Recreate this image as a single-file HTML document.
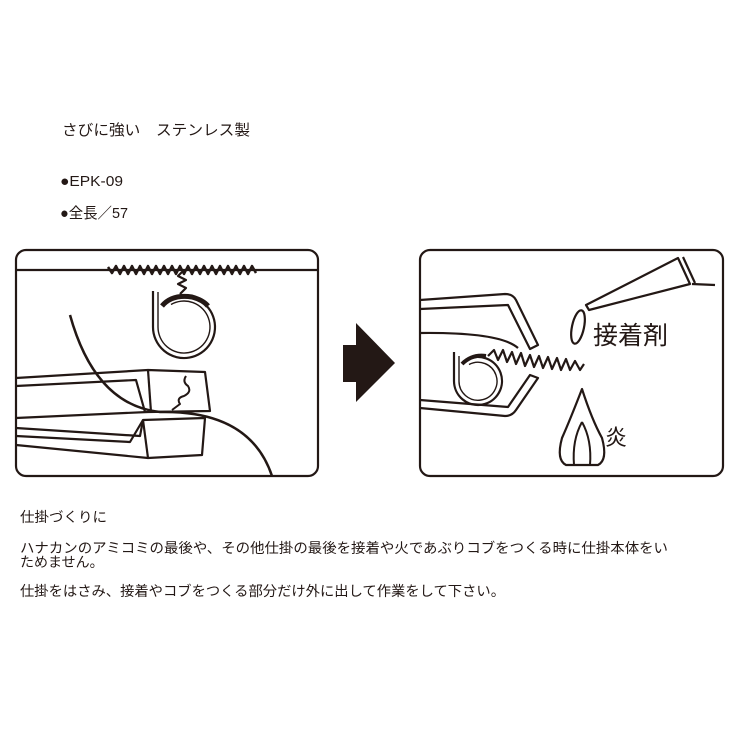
<!DOCTYPE html>
<html><head><meta charset="utf-8"><style>
html,body{margin:0;padding:0;background:#fff;}
svg{display:block}
text{font-family:"Liberation Sans","Noto Sans CJK JP",sans-serif;fill:#231815}
</style></head><body>
<svg width="750" height="750" viewBox="0 0 750 750" xmlns="http://www.w3.org/2000/svg">
<g font-size="15">
<text x="62" y="135" textLength="188" lengthAdjust="spacingAndGlyphs">さびに強い　ステンレス製</text>
<text x="60" y="186" textLength="63" lengthAdjust="spacingAndGlyphs">●EPK-09</text>
<text x="60" y="218" textLength="68" lengthAdjust="spacingAndGlyphs">●全長／57</text>
</g>
<g font-size="14">
<text x="20" y="522" textLength="87" lengthAdjust="spacingAndGlyphs">仕掛づくりに</text>
<text x="20" y="553" textLength="648" lengthAdjust="spacingAndGlyphs">ハナカンのアミコミの最後や、その他仕掛の最後を接着や火であぶりコブをつくる時に仕掛本体をい</text>
<text x="20" y="567">ためません。</text>
<text x="20" y="596" textLength="485" lengthAdjust="spacingAndGlyphs">仕掛をはさみ、接着やコブをつくる部分だけ外に出して作業をして下さい。</text>
</g>
<g fill="none" stroke="#231815" stroke-width="2.2" stroke-linejoin="round">
<!-- left panel -->
<rect x="16" y="250" width="302" height="226" rx="10"/>
<line x1="16" y1="270" x2="318" y2="270"/>
<polyline stroke-width="2.5" points="108,267 112,273 116,266 120,274 124,266 128,274 132,266 136,274 140,266 144,274 148,266 152,274 156,266 160,274 164,266 168,274 172,266 176,274 180,266 184,274 188,266 192,274 196,266 200,274 204,266 208,274 212,266 216,274 220,266 224,274 228,266 232,274 236,266 240,274 244,266 248,274 252,266 256,273"/>
<polyline points="182,272 178,276 186,280 178,284 186,288 180,294"/>
<path d="M153,291 L153,327 A31,31 0 1 0 168.5,300.2"/>
<path d="M158,292 L158,327 A26,26 0 1 0 171,304.5" stroke-width="1.4"/>
<path d="M162,306 Q172,294 192,297 Q203,300 208,306" stroke-width="5"/>
<path d="M70,315 Q95,405 160,412 Q250,410 272,476" stroke-width="2.5"/>
<polyline points="16,378 148,370 205,372 210,411 148,412 16,418"/>
<polyline points="16,386 136,380 145,412"/>
<line x1="148" y1="370" x2="151" y2="412"/>
<polyline points="16,428 140,436 143,420 205,418 202,455 148,458 16,445"/>
<polyline points="16,436 130,442 143,420"/>
<line x1="143" y1="420" x2="148" y2="458"/>
<path d="M186,376 Q182,382 188,386 Q192,392 184,396 Q176,398 180,404 L172,410" stroke-width="2"/>
<!-- right panel -->
<rect x="420" y="250" width="303" height="226" rx="10"/>
<path d="M420,300 L505,294 Q513,294 516,300 L538,345 L530,349 L508,305 L420,309"/>
<path d="M420,333 Q500,332 518,348"/>
<path d="M420,408 L505,416 Q512,416 516,410 L538,378 L530,375 L508,407 L420,400"/>
<path d="M454,352 L454,381 A24,24 0 1 0 466,360.2"/>
<path d="M459,356 L459,381 A19,19 0 1 0 469,364.5" stroke-width="1.4"/>
<path d="M462,364 Q472,354 486,356" stroke-width="4"/>
<polyline stroke-width="2.2" points="488,356 494,350 498,360 503,350 507,362 512,352 516,364 521,353 525,366 530,355 534,367 539,356 543,368 548,357 552,369 557,358 561,370 566,359 570,370 575,361 580,370 584,364"/>
<path d="M586,305 L678,258 L690,284 L589,310 Z"/>
<line x1="683" y1="257" x2="695" y2="283"/>
<line x1="692" y1="284" x2="715" y2="285"/>
<ellipse cx="578" cy="327" rx="6" ry="17" transform="rotate(12 578 327)"/>
<path d="M582,389 Q570,420 562,438 Q556,460 566,465 L598,465 Q608,460 602,438 Q592,420 582,389 Z"/>
<path d="M582,422 Q572,440 574,465 M582,422 Q592,440 590,465" stroke-width="2"/>
</g>
<polygon points="343,345 356,345 356,323 395,363 356,402 356,382 343,382" fill="#231815"/>
<text x="593" y="344" font-size="25">接着剤</text>
<text x="605" y="445" font-size="22">炎</text>
</svg>
</body></html>
